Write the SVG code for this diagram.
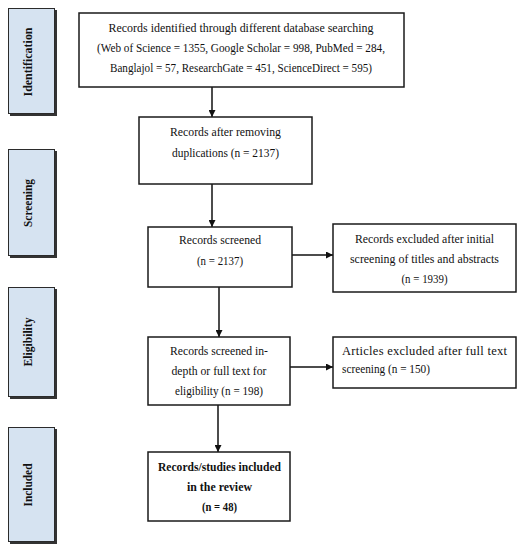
<svg xmlns="http://www.w3.org/2000/svg" width="524" height="550" viewBox="0 0 524 550">
<style>
.side{fill:#d6e3f1;stroke:#2b2b2b;stroke-width:1}
.sh{fill:#333}
.box{fill:#fff;stroke:#1a1a1a;stroke-width:1.5}
.t{font-family:"Liberation Serif","Times New Roman",serif;font-size:12.5px;fill:#111;text-anchor:middle}
.tl{font-family:"Liberation Serif","Times New Roman",serif;font-size:12.5px;fill:#111}
.b{font-weight:bold}
.v{font-family:"Liberation Serif","Times New Roman",serif;font-size:12.5px;font-weight:bold;fill:#111;text-anchor:middle}
.c{stroke:#111;stroke-width:1.5;fill:none;marker-end:url(#ah)}
</style>
<defs>
<marker id="ah" viewBox="0 0 10 10" refX="10" refY="5" markerWidth="7" markerHeight="7" markerUnits="userSpaceOnUse" orient="auto">
<path d="M0,0 L10,5 L0,10 z" fill="#111"/>
</marker>
</defs>
<rect width="524" height="550" fill="#fff"/>
<g id="side-identification">
<rect class="sh" x="10" y="10" width="47" height="106"/>
<rect class="side" x="8.5" y="8.5" width="46" height="105"/>
<text class="v" transform="translate(32,62) rotate(-90)" textLength="69" lengthAdjust="spacingAndGlyphs">Identification</text>
</g>
<g id="side-screening">
<rect class="sh" x="10" y="151" width="47" height="107"/>
<rect class="side" x="8.5" y="149.5" width="46" height="106"/>
<text class="v" transform="translate(32,203) rotate(-90)" textLength="48" lengthAdjust="spacingAndGlyphs">Screening</text>
</g>
<g id="side-eligibility">
<rect class="sh" x="10" y="289" width="47" height="110"/>
<rect class="side" x="8.5" y="287.5" width="46" height="109"/>
<text class="v" transform="translate(32,342) rotate(-90)" textLength="49" lengthAdjust="spacingAndGlyphs">Eligibility</text>
</g>
<g id="side-included">
<rect class="sh" x="10" y="429" width="47" height="115"/>
<rect class="side" x="8.5" y="427.5" width="46" height="114"/>
<text class="v" transform="translate(32,485) rotate(-90)" textLength="43" lengthAdjust="spacingAndGlyphs">Included</text>
</g>
<g id="connectors">
<line class="c" x1="212" y1="87" x2="212" y2="117"/>
<line class="c" x1="212" y1="184" x2="212" y2="227"/>
<line class="c" x1="292" y1="255" x2="333" y2="255"/>
<line class="c" x1="219" y1="287" x2="219" y2="337"/>
<line class="c" x1="290" y1="367" x2="333" y2="367"/>
<line class="c" x1="218" y1="405" x2="218" y2="452"/>
</g>
<g id="n-identified">
<rect class="box" x="79" y="13" width="325" height="74"/>
<text class="t" x="241" y="32" textLength="265" lengthAdjust="spacingAndGlyphs">Records identified through different database searching</text>
<text class="t" x="241" y="52" textLength="288" lengthAdjust="spacingAndGlyphs">(Web of Science = 1355, Google Scholar = 998, PubMed = 284,</text>
<text class="t" x="241" y="72" textLength="262" lengthAdjust="spacingAndGlyphs">Banglajol = 57, ResearchGate = 451, ScienceDirect = 595)</text>
</g>
<g id="n-dedup">
<rect class="box" x="139" y="117" width="173" height="67"/>
<text class="t" x="225.5" y="136" textLength="111" lengthAdjust="spacingAndGlyphs">Records after removing</text>
<text class="t" x="225.5" y="157" textLength="107" lengthAdjust="spacingAndGlyphs">duplications (n = 2137)</text>
</g>
<g id="n-screened">
<rect class="box" x="148" y="227" width="144" height="60"/>
<text class="t" x="220" y="244" textLength="82" lengthAdjust="spacingAndGlyphs">Records screened</text>
<text class="t" x="220" y="265" textLength="46" lengthAdjust="spacingAndGlyphs">(n = 2137)</text>
</g>
<g id="n-excluded1">
<rect class="box" x="333" y="224" width="183" height="68"/>
<text class="t" x="424.5" y="243" textLength="139" lengthAdjust="spacingAndGlyphs">Records excluded after initial</text>
<text class="t" x="424.5" y="263" textLength="149" lengthAdjust="spacingAndGlyphs">screening of titles and abstracts</text>
<text class="t" x="424.5" y="283" textLength="46" lengthAdjust="spacingAndGlyphs">(n = 1939)</text>
</g>
<g id="n-eligibility">
<rect class="box" x="148" y="337" width="142" height="68"/>
<text class="t" x="219" y="355" textLength="98" lengthAdjust="spacingAndGlyphs">Records screened in-</text>
<text class="t" x="219" y="375" textLength="95" lengthAdjust="spacingAndGlyphs">depth or full text for</text>
<text class="t" x="219" y="395" textLength="88" lengthAdjust="spacingAndGlyphs">eligibility (n = 198)</text>
</g>
<g id="n-excluded2">
<rect class="box" x="333" y="337" width="183" height="51"/>
<text class="tl" x="342" y="355" textLength="165" lengthAdjust="spacing">Articles excluded after full text</text>
<text class="tl" x="342" y="373" textLength="88" lengthAdjust="spacingAndGlyphs">screening (n = 150)</text>
</g>
<g id="n-included">
<rect class="box" x="148" y="452" width="142" height="69"/>
<text class="t b" x="219.5" y="471" textLength="123" lengthAdjust="spacingAndGlyphs">Records/studies included</text>
<text class="t b" x="219.5" y="491" textLength="65" lengthAdjust="spacingAndGlyphs">in the review</text>
<text class="t b" x="219.5" y="511" textLength="35" lengthAdjust="spacingAndGlyphs">(n = 48)</text>
</g>
</svg>
